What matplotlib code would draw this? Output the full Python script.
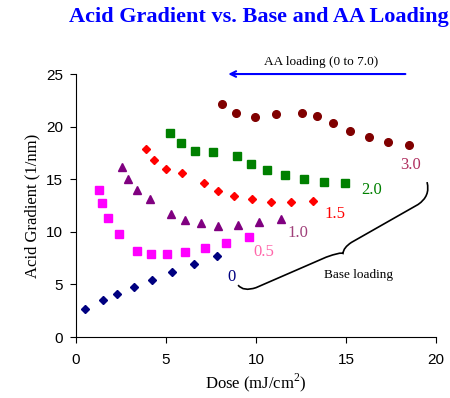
import matplotlib
matplotlib.use('Agg')
import matplotlib.pyplot as plt
from matplotlib.path import Path
from matplotlib.patches import PathPatch

# base loading series
dose_0 = [0.5, 1.48, 2.26, 3.2, 4.2, 5.35, 6.57, 7.83]
grad_0 = [2.7, 3.5, 4.06, 4.72, 5.45, 6.2, 6.97, 7.7]

dose_05 = [1.28, 1.46, 1.8, 2.37, 3.41, 4.15, 5.06, 6.07, 7.18, 8.35, 9.6]
grad_05 = [13.94, 12.7, 11.34, 9.79, 8.2, 7.86, 7.89, 8.11, 8.46, 8.97, 9.47]

dose_10 = [2.56, 2.91, 3.41, 4.11, 5.28, 6.06, 6.93, 7.9, 9.02, 10.17, 11.39]
grad_10 = [16.16, 15.05, 13.97, 13.15, 11.66, 11.09, 10.8, 10.6, 10.7, 10.96, 11.22]

dose_15 = [3.89, 4.35, 5.02, 5.87, 7.11, 7.89, 8.76, 9.78, 10.81, 11.96, 13.19]
grad_15 = [17.87, 16.83, 15.97, 15.56, 14.67, 13.91, 13.4, 13.09, 12.86, 12.86, 12.96]

dose_20 = [5.24, 5.83, 6.63, 7.59, 8.94, 9.72, 10.59, 11.59, 12.65, 13.76, 14.94]
grad_20 = [19.36, 18.41, 17.71, 17.62, 17.24, 16.48, 15.84, 15.37, 15.05, 14.73, 14.67]

dose_30 = [8.09, 8.87, 9.93, 11.09, 12.56, 13.39, 14.26, 15.22, 16.26, 17.35, 18.52]
grad_30 = [22.15, 21.32, 20.91, 21.23, 21.32, 21.04, 20.37, 19.58, 19.01, 18.57, 18.22]

serif = 'Liberation Serif'
plt.rcParams['mathtext.fontset'] = 'custom'
plt.rcParams['mathtext.rm'] = serif

fig = plt.figure(figsize=(4.5, 3.98), dpi=100)
ax = fig.add_axes([0.169, 0.153, 0.8, 0.661])

ax.plot(dose_0, grad_0, 'D', color='#000080', ms=4.2, ls='none')
ax.plot(dose_05, grad_05, 's', color='#ff00ff', ms=5.5, ls='none')
ax.plot(dose_10, grad_10, '^', color='#800080', ms=6, ls='none')
ax.plot(dose_15, grad_15, 'D', color='#ff0000', ms=4.2, ls='none')
ax.plot(dose_20, grad_20, 's', color='#008000', ms=5.5, ls='none')
ax.plot(dose_30, grad_30, 'o', color='#800000', ms=5.5, ls='none')

ax.set_xlim(0, 20)
ax.set_ylim(0, 25)
ax.set_xticks([0, 5, 10, 15, 20])
ax.set_yticks([0, 5, 10, 15, 20, 25])
for s in ['top', 'right']:
    ax.spines[s].set_visible(False)
ax.tick_params(direction='out', length=4.5, labelsize=11)
ax.tick_params(axis='x', pad=7)
ax.tick_params(axis='y', pad=5)
for lab in ax.get_xticklabels() + ax.get_yticklabels():
    lab.set_family('Liberation Sans')

ax.set_xlabel('Dose (mJ/cm$^2$)', family=serif, fontsize=12, labelpad=3)
ax.set_ylabel('Acid Gradient (1/nm)', family=serif, fontsize=12, labelpad=4)

fig.text(0.576, 0.957, 'Acid Gradient vs. Base and AA Loading', ha='center', va='center',
         family=serif, fontsize=16, fontweight='bold', color='#0000ff')

# series labels
ax.text(18.56, 16.35, '3.0', color='#b03060', family=serif, fontsize=12, ha='center', va='center')
ax.text(16.44, 14.0, '2.0', color='#008000', family=serif, fontsize=12, ha='center', va='center')
ax.text(14.39, 11.7, '1.5', color='#ff0000', family=serif, fontsize=12, ha='center', va='center')
ax.text(12.33, 9.9, '1.0', color='#a0407a', family=serif, fontsize=12, ha='center', va='center')
ax.text(10.44, 8.08, '0.5', color='#ff66aa', family=serif, fontsize=12, ha='center', va='center')
ax.text(8.61, 5.7, '0', color='#000080', family=serif, fontsize=12, ha='center', va='center')
ax.text(15.67, 5.86, 'Base loading', color='black', family=serif, fontsize=9.5, ha='center', va='center')

# AA loading arrow
ax.annotate('', xy=(8.3, 25), xytext=(18.45, 25),
            arrowprops=dict(arrowstyle='->', color='#0000ff', lw=1.5), annotation_clip=False)
ax.text(13.6, 26.1, 'AA loading (0 to 7.0)', family=serif, fontsize=9.5, ha='center', va='center')

# curly brace
verts = [(9.0, 4.94), (9.3, 4.3), (10.0, 4.7),
         (13.9, 7.6), (14.7, 8.1), (14.83, 7.95),
         (14.85, 8.5), (15.3, 9.0),
         (19.0, 12.6), (19.7, 13.4), (19.5, 14.73)]
codes = [Path.MOVETO, Path.CURVE3, Path.CURVE3,
         Path.LINETO, Path.CURVE3, Path.CURVE3,
         Path.CURVE3, Path.CURVE3,
         Path.LINETO, Path.CURVE3, Path.CURVE3]
ax.add_patch(PathPatch(Path(verts, codes), fill=False, lw=1.2, color='black', clip_on=False))

plt.savefig('out.png', dpi=100)
